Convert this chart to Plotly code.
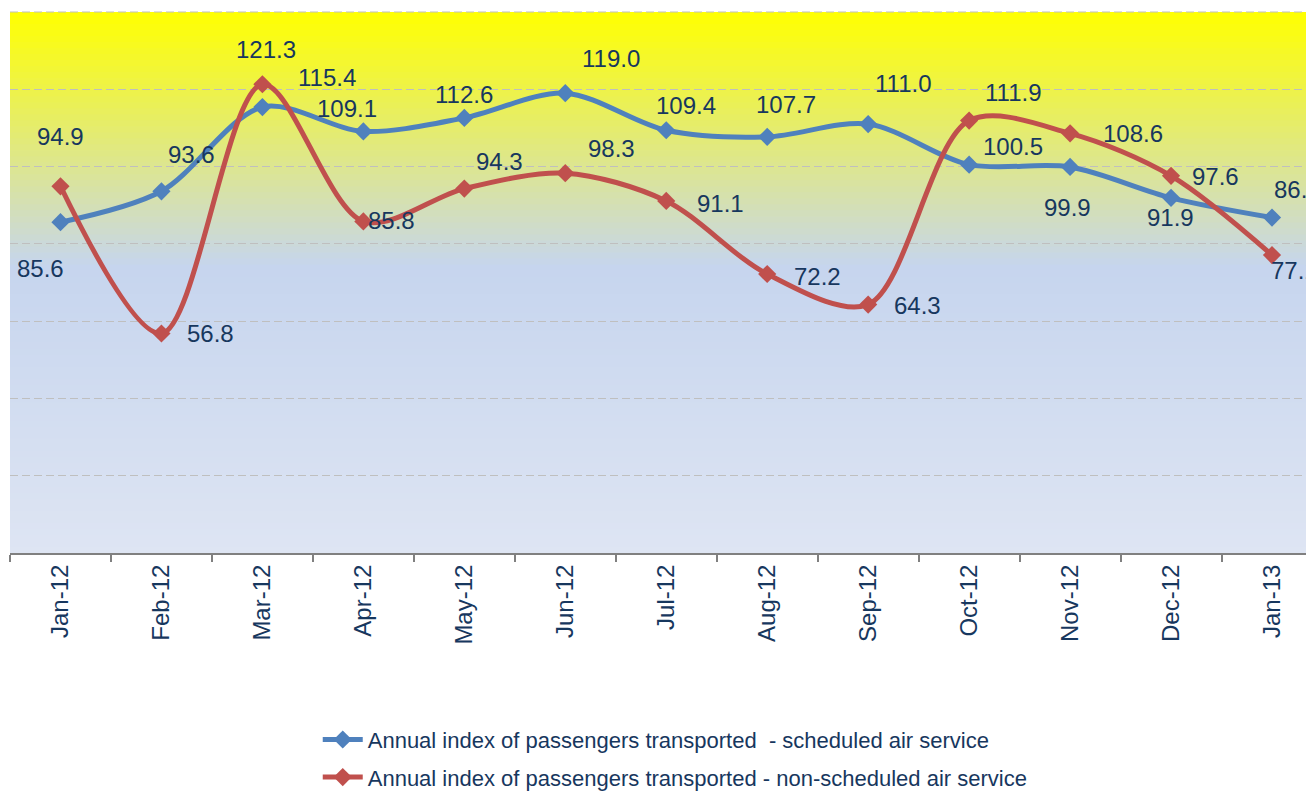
import plotly.graph_objects as go

months = ["Jan-12", "Feb-12", "Mar-12", "Apr-12", "May-12", "Jun-12", "Jul-12",
          "Aug-12", "Sep-12", "Oct-12", "Nov-12", "Dec-12", "Jan-13"]
scheduled = [85.6, 93.6, 115.4, 109.1, 112.6, 119.0, 109.4, 107.7, 111.0, 100.5, 99.9, 91.9, 86.8]
non_scheduled = [94.9, 56.8, 121.3, 85.8, 94.3, 98.3, 91.1, 72.2, 64.3, 111.9, 108.6, 97.6, 77.1]

name_s = "Annual index of passengers transported  - scheduled air service"
name_n = "Annual index of passengers transported - non-scheduled air service"

# label pixel offsets (dx, dy) relative to each point
off_s = [(-20, -46), (30, 37), (65, 30), (-16, 23), (0, 23), (46, 35), (20, 25),
         (19, 32), (35, 41), (44, 18), (-3, -41), (-1, -20), (25, 28)]
off_n = [(0, 50), (49, 0), (4, 35), (28, 1), (35, 27), (46, 25), (54, -3),
         (50, -2), (49, -1), (44, 28), (63, 0), (44, -1), (22, -15)]

BLUE = "#4F81BD"
RED = "#C0504D"
TXT = "#17375E"
FONT = "Arial, Liberation Sans, sans-serif"

fig = go.Figure()
fig.add_trace(go.Scatter(
    x=months, y=scheduled, name=name_s, mode="lines+markers",
    line=dict(color=BLUE, width=5, shape="spline", smoothing=0.9),
    marker=dict(symbol="diamond", size=14, color=BLUE),
    legendgroup="a"))
fig.add_trace(go.Scatter(
    x=months, y=non_scheduled, name=name_n, mode="lines+markers",
    line=dict(color=RED, width=5, shape="spline", smoothing=0.9),
    marker=dict(symbol="diamond", size=14, color=RED),
    legendgroup="b"))

annotations = []
for series, offs in ((scheduled, off_s), (non_scheduled, off_n)):
    for m, v, (dx, dy) in zip(months, series, offs):
        annotations.append(dict(x=m, y=v, text=f"{v:.1f}", showarrow=False,
                                xshift=dx, yshift=dy,
                                font=dict(family=FONT, size=24, color=TXT)))


def mix(c1, c2, t):
    return tuple(round(a + (b - a) * t) for a, b in zip(c1, c2))


top = (255, 255, 0)
mid = (198, 213, 238)
bot = (222, 229, 243)
shapes = []
N = 90
for i in range(N):
    t = (i + 0.5) / N  # from top
    if t < 0.47:
        c = mix(top, mid, t / 0.47)
    else:
        c = mix(mid, bot, (t - 0.47) / 0.53)
    y1 = 1 - i / N
    y0 = 1 - (i + 1) / N - 0.002
    shapes.append(dict(type="rect", xref="paper", yref="paper", x0=0, x1=1,
                       y0=max(y0, 0), y1=y1, fillcolor="rgb(%d,%d,%d)" % c,
                       line=dict(width=0), layer="below"))
shapes.append(dict(type="line", xref="paper", yref="paper", x0=0, x1=1, y0=1, y1=1,
                   line=dict(color="#BFBFBF", width=1, dash="8px,4px"), layer="below"))

# page body has an 8px margin: compensate so the plot area sits at (10, 12)-(1314, 553)
fig.update_layout(
    width=1314, height=791,
    margin=dict(l=2, r=8, t=4, b=246),
    paper_bgcolor="white", plot_bgcolor="#DEE5F3",
    font=dict(family=FONT, color=TXT),
    shapes=shapes, annotations=annotations,
    showlegend=True,
    legend=dict(orientation="v", x=0.236, xanchor="left",
                yref="container", y=0.1015, yanchor="top",
                font=dict(family=FONT, size=22, color=TXT),
                bgcolor="rgba(0,0,0,0)", traceorder="grouped", tracegroupgap=6,
                itemwidth=40),
)
fig.update_xaxes(type="category", range=[-0.5, 12.416], tickson="boundaries",
                 ticks="outside", ticklen=7, tickcolor="#808080", tickwidth=2,
                 showline=True, linecolor="#808080", linewidth=2,
                 showgrid=False, tickangle=-90,
                 tickfont=dict(family=FONT, size=24, color=TXT))
fig.update_yaxes(range=[0, 140], dtick=20, showticklabels=False, showgrid=True,
                 gridcolor="#BFBFBF", griddash="8px,4px", gridwidth=1,
                 zeroline=False, showline=False)

fig.write_html("out.html")
